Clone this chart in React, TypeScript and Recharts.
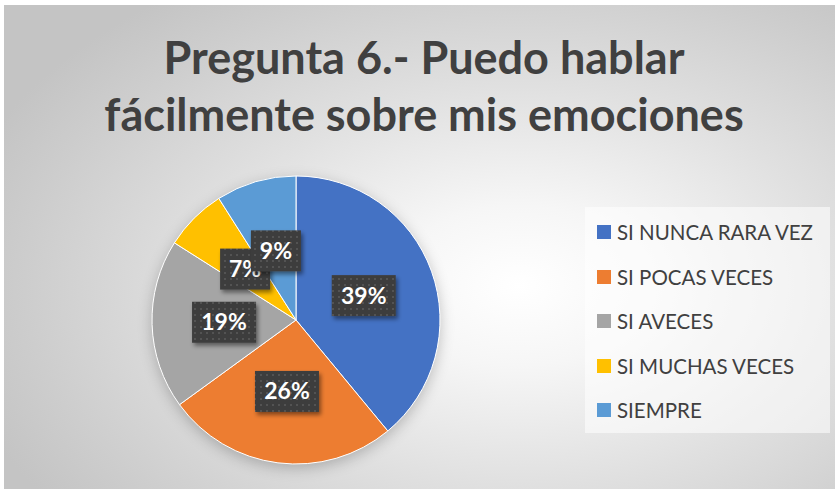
import React from 'react';
import { PieChart, Pie, Cell, Legend } from 'recharts';

const categories = ['SI NUNCA RARA VEZ', 'SI POCAS VECES', 'SI AVECES', 'SI MUCHAS VECES', 'SIEMPRE'];
const percentages = [39, 26, 19, 7, 9];
const colors = ['#4472C4', '#ED7D31', '#A5A5A5', '#FFC000', '#5B9BD5'];
const titleLines = ['Pregunta 6.- Puedo hablar', 'fácilmente sobre mis emociones'];

const data = categories.map((name, i) => ({ name, value: percentages[i] }));

const RAD = Math.PI / 180;

const renderLabel = (props: any) => {
  const { cx, cy, midAngle, outerRadius, value } = props;
  const r = outerRadius * 0.5;
  const x = cx + r * Math.cos(-midAngle * RAD);
  const y = cy + r * Math.sin(-midAngle * RAD);
  const text = `${value}%`;
  const w = 22 + text.length * 14;
  const h = 41;
  return (
    <g>
      <rect x={x - w / 2} y={y - h / 2} width={w} height={h} fill="url(#dotPattern)" filter="url(#labelShadow)" />
      <text
        x={x}
        y={y + 8}
        textAnchor="middle"
        fill="#ffffff"
        fontFamily="Lato, 'Open Sans', sans-serif"
        fontWeight={700}
        fontSize={23}
      >
        {text}
      </text>
    </g>
  );
};

const LegendBox = () => (
  <div
    style={{
      width: 245,
      height: 226,
      background: 'rgba(255,255,255,0.55)',
      boxSizing: 'border-box',
      paddingTop: 3,
    }}
  >
    {categories.map((c, i) => (
      <div key={c} style={{ height: 44.5, display: 'flex', alignItems: 'center', paddingLeft: 12 }}>
        <span style={{ display: 'inline-block', width: 14, height: 14, background: colors[i], marginRight: 6 }} />
        <span
          style={{
            fontFamily: "Lato, 'Open Sans', sans-serif",
            fontSize: 20.5,
            color: '#404040',
            whiteSpace: 'nowrap',
            lineHeight: '22px',
          }}
        >
          {c}
        </span>
      </div>
    ))}
  </div>
);

export default function App() {
  return (
    <div style={{ position: 'absolute', left: 0, top: 0, width: 835, height: 489, background: '#ffffff' }}>
      <style>{`.recharts-pie{filter:drop-shadow(0px 4px 7px rgba(0,0,0,0.22))}`}</style>
      <div
        style={{
          position: 'absolute',
          left: 4,
          top: 5,
          width: 831,
          height: 484,
          background:
            'radial-gradient(ellipse 70% 75% at 62% 58%, #ffffff 0%, #f6f6f6 22%, #e0e0e0 55%, #cdcdcd 85%, #c4c4c4 100%)',
        }}
      />
      <div style={{ position: 'absolute', left: 0, top: 0 }}>
        <PieChart width={835} height={489} margin={{ top: 0, right: 0, bottom: 0, left: 0 }}>
          <defs>
            <pattern id="dotPattern" width="6" height="6" patternUnits="userSpaceOnUse">
              <rect width="6" height="6" fill="#3e3e3e" />
              <rect x="2" y="2" width="2" height="2" fill="#525252" />
            </pattern>
            <filter id="labelShadow" x="-30%" y="-30%" width="170%" height="180%">
              <feDropShadow dx="2" dy="3" stdDeviation="2.2" floodColor="#000" floodOpacity="0.45" />
            </filter>
          </defs>
          {titleLines.map((t, i) => (
            <text
              key={t}
              x={424}
              y={74 + i * 57}
              textAnchor="middle"
              fill="#404040"
              fontFamily="Lato, 'Open Sans', sans-serif"
              fontWeight={700}
              fontSize={45}
            >
              {t}
            </text>
          ))}
          <Pie
            data={data}
            dataKey="value"
            nameKey="name"
            cx={296}
            cy={320}
            outerRadius={144}
            startAngle={90}
            endAngle={-270}
            stroke="#ffffff"
            strokeWidth={1}
            label={renderLabel}
            labelLine={false}
            isAnimationActive={false}
          >
            {data.map((d, i) => (
              <Cell key={d.name} fill={colors[i]} />
            ))}
          </Pie>
          <Legend
            content={() => <LegendBox />}
            wrapperStyle={{ position: 'absolute', left: 585, top: 207, width: 245, height: 226 }}
          />
        </PieChart>
      </div>
    </div>
  );
}
